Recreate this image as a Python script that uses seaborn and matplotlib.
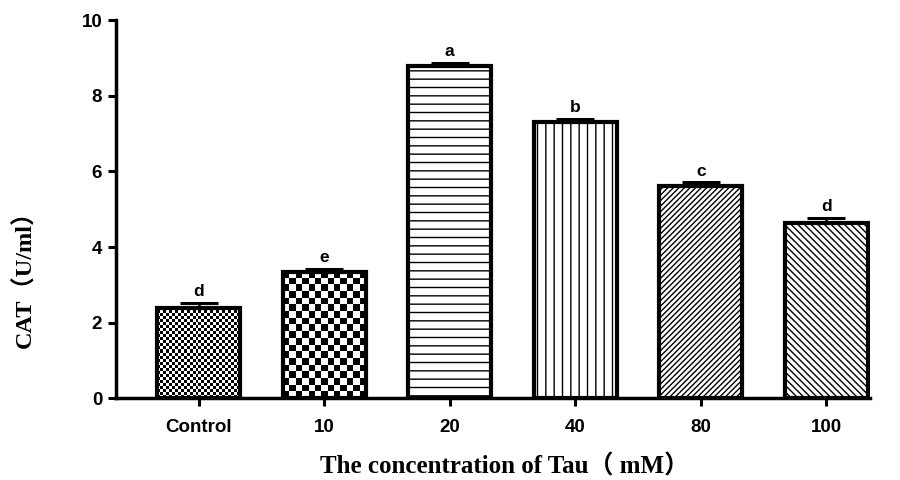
import numpy as np
import pandas as pd
import matplotlib
matplotlib.use("Agg")
import matplotlib.pyplot as plt
import seaborn as sns

categories = ["Control", "10", "20", "40", "80", "100"]
cat_values = [2.40, 3.35, 8.80, 7.31, 5.61, 4.64]
sem_values = [0.12, 0.08, 0.07, 0.08, 0.10, 0.13]
sig_letters = ["d", "e", "a", "b", "c", "d"]
y_ticks = [0, 2, 4, 6, 8, 10]

sns.set_theme(style="white")
plt.rcParams["hatch.linewidth"] = 1.0
plt.rcParams["text.color"] = "black"
plt.rcParams["axes.labelcolor"] = "black"
plt.rcParams["xtick.color"] = "black"
plt.rcParams["ytick.color"] = "black"

df = pd.DataFrame({"conc": categories, "cat": cat_values})

fig = plt.figure(figsize=(9, 4.8), dpi=100)
ax = fig.add_axes([0.129, 0.170, 0.838, 0.788])

sns.barplot(data=df, x="conc", y="cat", order=categories, color="white",
            edgecolor="black", linewidth=3, width=0.66, errorbar=None,
            saturation=1, ax=ax)

ax.set_xlim(-0.657, 5.35)
ax.set_ylim(0, 10)

hatches = [None, None, "--", "||", "//////", "\\\\\\\\\\"]
for p, h in zip(ax.patches, hatches):
    if h:
        p.set_hatch(h)

def checker(patch, cell_px):
    bb = patch.get_bbox()
    (px0, py0), (px1, py1) = ax.transData.transform([[bb.x0, bb.y0], [bb.x1, bb.y1]])
    nx = max(1, int(round((px1 - px0) / cell_px)))
    ny = max(1, int(round((py1 - py0) / cell_px)))
    arr = np.add.outer(np.arange(ny), np.arange(nx)) % 2
    patch.set_facecolor("none")
    im = ax.imshow(arr, cmap="gray", extent=[bb.x0, bb.x1, bb.y0, bb.y1],
                   origin="lower", interpolation="nearest", aspect="auto",
                   zorder=patch.get_zorder() - 0.5)
    im.set_clip_path(patch)

checker(ax.patches[0], 3.0)
checker(ax.patches[1], 6.5)
ax.set_xlim(-0.657, 5.35)
ax.set_ylim(0, 10)

xpos = np.arange(len(categories))
ax.errorbar(xpos, cat_values, yerr=[np.zeros(len(sem_values)), sem_values],
            fmt="none", ecolor="black", elinewidth=1.8, capsize=14, capthick=2.2,
            zorder=4)

for x, v, e, s in zip(xpos, cat_values, sem_values, sig_letters):
    ax.text(x, v + e + 0.1, s, ha="center", va="bottom", fontsize=12.5,
            fontweight="bold", family="Liberation Sans", color="black")

ax.set_yticks(y_ticks)
for sp in ["top", "right"]:
    ax.spines[sp].set_visible(False)
for sp in ["left", "bottom"]:
    ax.spines[sp].set_linewidth(2.5)
    ax.spines[sp].set_color("black")
ax.tick_params(axis="both", which="major", length=6, width=2.2, color="black",
               labelcolor="black", direction="out", bottom=True, left=True, pad=4)
ax.tick_params(axis="x", pad=9)
for lab in ax.get_xticklabels() + ax.get_yticklabels():
    lab.set_fontsize(13.5)
    lab.set_fontweight("bold")
    lab.set_family("Liberation Sans")

ax.set_xlabel("The concentration of Tau（ mM）", fontsize=18, fontweight="bold",
              family=["Liberation Serif", "Noto Sans CJK SC"], color="black")
ax.set_ylabel("CAT（U/ml）", fontsize=17.5, fontweight="bold",
              family=["Liberation Serif", "Noto Sans CJK SC"], color="black")
ax.xaxis.set_label_coords(0.515, -0.148)
ax.yaxis.set_label_coords(-0.105, 0.33)

fig.savefig("out.png", dpi=100)
